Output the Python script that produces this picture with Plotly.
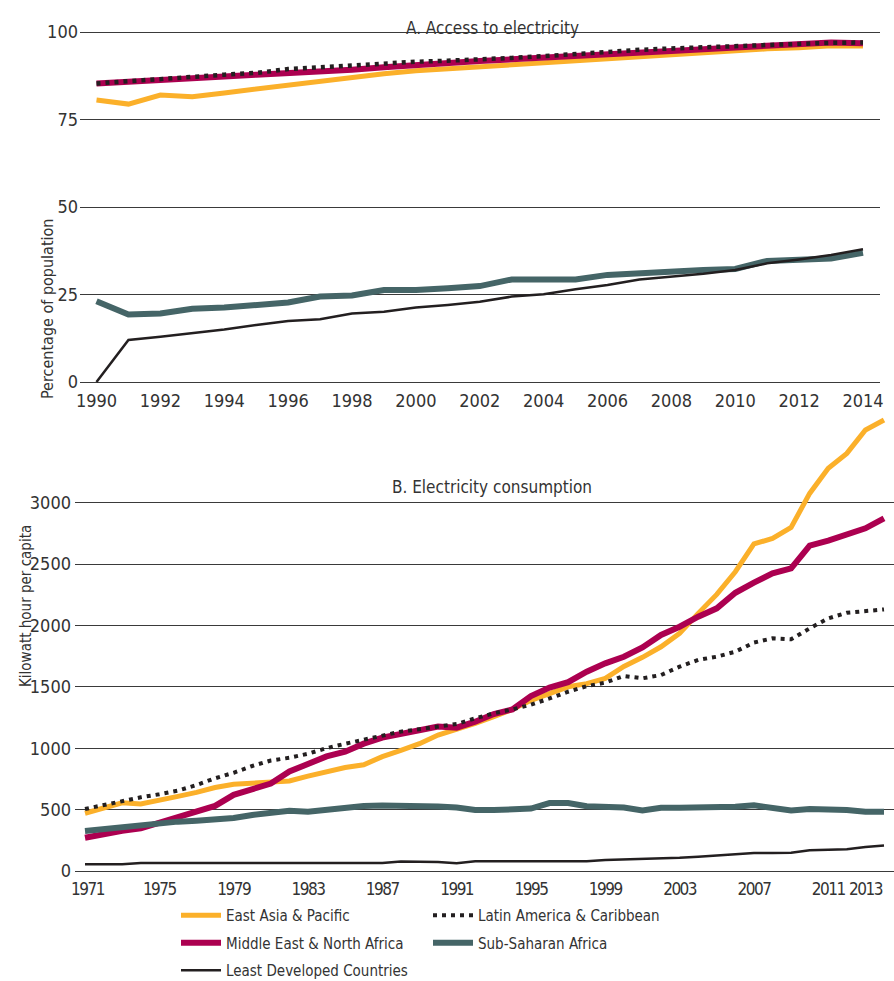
import plotly.graph_objects as go

# ---------------- Panel A: access to electricity (% of population) ----------------
years_a = list(range(1990, 2015))

access_eap = [80.6, 79.4, 82.0, 81.5, 82.6, 83.7, 85.0, 86.2, 87.2, 88.1, 88.9, 89.5,
              90.1, 90.7, 91.2, 91.8, 92.5, 93.1, 93.6, 94.3, 94.9, 95.2, 95.5, 96.1, 96.0]
access_mena = [85.3, 85.7, 86.2, 86.8, 87.3, 87.8, 88.2, 88.6, 89.2, 89.9, 90.6, 91.1,
               91.7, 92.2, 92.6, 93.1, 93.6, 94.1, 94.6, 95.1, 95.5, 95.9, 96.4, 97.0, 96.8]
access_lac = [85.3, 86.0, 86.5, 87.2, 87.8, 88.3, 89.4, 89.9, 90.5, 91.0, 91.5, 91.8,
              92.1, 92.6, 93.1, 93.8, 94.4, 94.9, 95.3, 95.7, 96.1, 96.3, 96.6, 96.9, 97.0]
access_ssa = [23.1, 19.3, 19.6, 20.9, 21.3, 22.2, 22.7, 24.4, 24.7, 26.3, 26.3, 26.8,
              27.4, 29.3, 29.3, 29.3, 30.6, 31.2, 31.7, 32.0, 32.3, 34.6, 34.9, 35.3, 36.9]
access_ldc = [0.0, 12.0, 12.9, 13.9, 15.0, 16.3, 17.4, 17.9, 19.6, 20.1, 21.3, 22.0,
              22.9, 24.4, 25.1, 26.5, 27.7, 29.3, 30.1, 30.9, 32.0, 33.9, 35.0, 36.3, 37.9]

# ---------------- Panel B: electricity consumption (kWh per capita) ----------------
years_b = list(range(1971, 2015))

kwh_eap = [470, 515, 555, 545, 572, 608, 640, 680, 707, 715, 717, 733, 772, 805, 843,
           865, 931, 983, 1037, 1107, 1153, 1202, 1257, 1316, 1390, 1450, 1500, 1526,
           1569, 1666, 1740, 1826, 1935, 2098, 2252, 2437, 2663, 2709, 2798, 3075, 3279,
           3401, 3591, 3673]
kwh_mena = [271, 301, 328, 348, 394, 443, 484, 530, 620, 665, 712, 810, 866, 933, 972,
            1037, 1086, 1114, 1145, 1176, 1167, 1216, 1278, 1316, 1425, 1494, 1538, 1623,
            1691, 1745, 1820, 1922, 1989, 2071, 2139, 2266, 2348, 2424, 2465, 2649, 2690,
            2742, 2791, 2872]
kwh_lac = [505, 537, 570, 600, 625, 654, 700, 755, 800, 855, 900, 922, 955, 1000, 1036,
           1071, 1106, 1135, 1155, 1175, 1197, 1243, 1284, 1316, 1355, 1405, 1460, 1505,
           1534, 1588, 1569, 1596, 1664, 1719, 1745, 1786, 1860, 1895, 1887, 1976, 2057,
           2103, 2119, 2130]
kwh_ssa = [326, 342, 358, 370, 392, 402, 410, 418, 432, 456, 476, 490, 483, 500, 520,
           530, 533, 533, 533, 525, 517, 497, 497, 497, 508, 553, 553, 527, 517, 517,
           492, 515, 515, 515, 524, 524, 535, 517, 492, 505, 505, 497, 482, 482]
kwh_ldc = [54, 54, 54, 66, 66, 66, 66, 66, 66, 66, 66, 66, 66, 66, 66, 66, 66, 78, 78,
           74, 64, 80, 80, 80, 80, 80, 80, 80, 90, 93, 98, 100, 108, 117, 127, 136, 146,
           146, 148, 168, 170, 178, 196, 207]

access_ticks = [0, 25, 50, 75, 100]
kwh_ticks = [0, 500, 1000, 1500, 2000, 2500, 3000]
year_ticks_a = list(range(1990, 2015, 2))
year_ticks_b = list(range(1971, 2012, 4)) + [2013]

# tighter letter spacing keeps the closely packed 2011 / 2013 labels apart
NB = "\u00a0"
year_text_b = [f'<span style="letter-spacing:-1.5px">{y}</span>' for y in year_ticks_b]
year_text_b[0] = NB + year_text_b[0]

# ---------------- styling ----------------
W, H = 894, 981
FONT = "Liberation Sans Narrow, Arial Narrow, DejaVu Sans Condensed, sans-serif"
TXT = "#333333"
GRID = "#3a3a3a"

C_EAP = "#FBB02A"
C_MENA = "#AC0050"
C_LAC = "#231F20"
C_SSA = "#456567"
C_LDC = "#231F20"

series = [
    # name, panel A values, panel B values, color, width, dash, legend
    ("East Asia & Pacific", access_eap, kwh_eap, C_EAP, 5, "solid", "legend"),
    ("Middle East & North Africa", access_mena, kwh_mena, C_MENA, 6, "solid", "legend"),
    ("Latin America & Caribbean", access_lac, kwh_lac, C_LAC, 4.5, "4px,5px", "legend2"),
    ("Sub-Saharan Africa", access_ssa, kwh_ssa, C_SSA, 6, "solid", "legend2"),
    ("Least Developed Countries", access_ldc, kwh_ldc, C_LDC, 2.5, "solid", "legend"),
]

legend_rank = {
    "East Asia & Pacific": 1,
    "Middle East & North Africa": 2,
    "Least Developed Countries": 3,
    "Latin America & Caribbean": 1,
    "Sub-Saharan Africa": 2,
}

fig = go.Figure()

for name, a_vals, b_vals, color, width, dash, leg in series:
    fig.add_trace(go.Scatter(
        x=years_a, y=a_vals, mode="lines", name=name,
        line=dict(color=color, width=width, dash=dash),
        xaxis="x", yaxis="y", showlegend=False, hoverinfo="skip",
    ))

for name, a_vals, b_vals, color, width, dash, leg in series:
    fig.add_trace(go.Scatter(
        x=years_b, y=b_vals, mode="lines", name=name,
        line=dict(color=color, width=width if dash == "solid" else 4, dash=dash),
        xaxis="x2", yaxis="y2", showlegend=True, legend=leg,
        legendgroup=name, legendrank=legend_rank[name], hoverinfo="skip",
    ))


def px_x(p):
    return p / W


def px_y(p):
    return 1 - p / H


# Panel A geometry: 100% at y=32px, 0% at y=382px ; 1990 at x=96.5px, 2014 at x=863px
a_top, a_bot = 20, 388
a_scale = (382 - 32) / 100.0
a_left, a_right = 80, 880
a_xscale = (863 - 96.5) / 24.0

# Panel B geometry: 0 at y=871px, 500 per 61.4px ; 1971 at x=85px, 2014 at x=884px
b_top, b_bot = 405, 876
b_scale = 61.4 / 500.0
b_left, b_right = 75, 894
b_xscale = (884 - 85) / 43.0

tick_font = dict(family=FONT, size=18, color=TXT)
tick_font_b = dict(family=FONT, size=17, color=TXT)
legend_font = dict(family=FONT, size=15, color=TXT)

fig.update_layout(
    width=W, height=H,
    margin=dict(l=0, r=0, t=0, b=0, pad=0, autoexpand=False),
    paper_bgcolor="white", plot_bgcolor="white",
    font=dict(family=FONT, size=17, color=TXT),
    xaxis=dict(
        domain=[px_x(a_left), px_x(a_right)],
        range=[1990 - (96.5 - a_left) / a_xscale, 2014 + (a_right - 863) / a_xscale],
        tickvals=year_ticks_a, tickangle=0, showgrid=False, zeroline=False,
        showline=False, ticks="", tickfont=tick_font, anchor="y",
        automargin=False, ticklabelstandoff=0,
    ),
    yaxis=dict(
        domain=[px_y(a_bot), px_y(a_top)],
        range=[-(a_bot - 382) / a_scale, (382 - a_top) / a_scale],
        tickvals=access_ticks, showgrid=True, gridcolor=GRID, gridwidth=1,
        zeroline=False, showline=False, ticks="", tickfont=tick_font,
        anchor="x", automargin=False, ticklabelstandoff=1,
    ),
    xaxis2=dict(
        domain=[px_x(b_left), px_x(b_right)],
        range=[1971 - (85 - b_left) / b_xscale, 2014 + (b_right - 884) / b_xscale],
        tickvals=year_ticks_b, ticktext=year_text_b, tickangle=0, showgrid=False,
        zeroline=False, showline=False, ticks="", tickfont=tick_font_b,
        anchor="y2", automargin=False, ticklabelstandoff=1,
    ),
    yaxis2=dict(
        domain=[px_y(b_bot), px_y(b_top)],
        range=[-(b_bot - 871) / b_scale, (871 - b_top) / b_scale],
        tickvals=kwh_ticks, showgrid=True, gridcolor=GRID, gridwidth=1,
        zeroline=False, showline=False, ticks="", tickfont=tick_font,
        anchor="x2", automargin=False, ticklabelstandoff=3,
    ),
    legend=dict(
        x=px_x(176), y=px_y(899), xanchor="left", yanchor="top",
        orientation="v", itemwidth=40, tracegroupgap=5,
        font=legend_font, bgcolor="rgba(0,0,0,0)", traceorder="grouped",
    ),
    legend2=dict(
        x=px_x(428), y=px_y(899), xanchor="left", yanchor="top",
        orientation="v", itemwidth=40, tracegroupgap=5,
        font=legend_font, bgcolor="rgba(0,0,0,0)", traceorder="grouped",
    ),
    showlegend=True,
)

fig.add_annotation(text="A. Access to electricity", x=px_x(492), y=px_y(16),
                   xref="paper", yref="paper", showarrow=False,
                   font=dict(family=FONT, size=17, color=TXT))
fig.add_annotation(text="B. Electricity consumption", x=px_x(492), y=px_y(487),
                   xref="paper", yref="paper", showarrow=False,
                   font=dict(family=FONT, size=17, color=TXT))
fig.add_annotation(text="Percentage of population", x=px_x(36), y=px_y(216),
                   xref="paper", yref="paper", showarrow=False, textangle=-90,
                   font=dict(family=FONT, size=16, color=TXT))
fig.add_annotation(text="Kilowatt hour per capita", x=px_x(15), y=px_y(689),
                   xref="paper", yref="paper", showarrow=False, textangle=-90,
                   font=dict(family=FONT, size=15, color=TXT))

fig.write_html("out.html")
